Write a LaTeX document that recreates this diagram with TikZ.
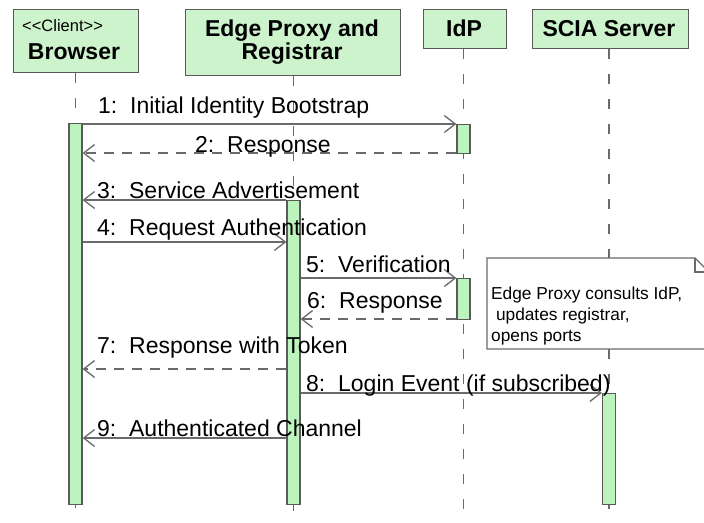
\documentclass[tikz,border=0pt]{standalone}
\usepackage{fontspec}
\setmainfont{Liberation Sans}
\usetikzlibrary{arrows.meta}
\definecolor{headfill}{HTML}{CCF3CC}
\definecolor{barfill}{HTML}{BDF4BD}
\definecolor{edgegray}{HTML}{5A5A5A}
\definecolor{linegray}{HTML}{6A6A6A}
\tikzset{
  headbox/.style={draw=edgegray, fill=headfill, line width=1.4pt, inner sep=0pt},
  actbar/.style={draw=edgegray, fill=barfill, line width=1.2pt, minimum width=13pt, inner sep=0pt, anchor=north},
  lifeline/.style={draw=linegray, line width=1.2pt, dash pattern=on 10pt off 15pt},
  call/.style={draw=linegray, line width=1.3pt, -{Straight Barb[length=11pt,width=17pt,line width=1.3pt]}},
  reply/.style={call, dash pattern=on 10pt off 8pt},
  lbl/.style={inner sep=0pt, anchor=base west, font=\fontsize{23}{26}\selectfont},
  headtxt/.style={inner sep=0pt, anchor=base, font=\fontsize{23}{26}\selectfont\bfseries},
  notebox/.style={draw=linegray, fill=white, line width=1.2pt},
  notetxt/.style={inner sep=0pt, anchor=base west, font=\fontsize{17.3}{21}\selectfont}
}
\begin{document}
\begin{tikzpicture}[x=1pt, y=-1pt]
\useasboundingbox (0,0) rectangle (704,522);

% participant heads
\node[headbox, minimum width=125pt, minimum height=63pt, anchor=north west] (hb) at (13,9) {};
\node[headbox, minimum width=215pt, minimum height=66pt, anchor=north west] (he) at (185,9) {};
\node[headbox, minimum width=83pt, minimum height=39pt, anchor=north west] (hi) at (423,9) {};
\node[headbox, minimum width=156pt, minimum height=39pt, anchor=north west] (hs) at (532,9) {};

\node[inner sep=0pt, anchor=base west, font=\fontsize{16.5}{18}\selectfont] (tclient) at (22,31) {<{}<Client>{}>};
\node[headtxt] (tbrowser) at (74,59) {Browser};
\node[headtxt] (tedge1) at (292,36) {Edge Proxy and};
\node[headtxt] (tedge2) at (292,59) {Registrar};
\node[headtxt] (tidp) at (464,36) {IdP};
\node[headtxt] (tscia) at (609,36) {SCIA Server};

% lifelines
\coordinate (endb) at (75.5,522);
\coordinate (ende) at (293.5,522);
\coordinate (endi) at (463.5,522);
\coordinate (ends) at (609,522);
\draw[lifeline] (hb.south -| endb) -- (endb);
\draw[lifeline] (he.south -| ende) -- (ende);
\draw[lifeline] (hi.south -| endi) -- (endi);
\draw[lifeline] (hs.south -| ends) -- (ends);

% activation bars
\node[actbar, minimum height=381pt] (bb) at (75.5,123) {};
\node[actbar, minimum height=304pt] (be) at (293.5,200) {};
\node[actbar, minimum height=29pt] (bi1) at (463.5,124) {};
\node[actbar, minimum height=41pt] (bi2) at (463.5,278) {};
\node[actbar, minimum height=111pt] (bs) at (609,393) {};

% message rows
\coordinate (m1) at (0,124);
\coordinate (m2) at (0,153);
\coordinate (m3) at (0,200);
\coordinate (m4) at (0,242);
\coordinate (m5) at (0,278);
\coordinate (m6) at (0,319);
\coordinate (m7) at (0,369);
\coordinate (m8) at (0,393);
\coordinate (m9) at (0,438);

\draw[call]  (bb.east |- m1) -- (bi1.west |- m1);
\draw[reply] (bi1.west |- m2) -- (bb.east |- m2);
\draw[call]  (be.west |- m3) -- (bb.east |- m3);
\draw[call]  (bb.east |- m4) -- (be.west |- m4);
\draw[call]  (be.east |- m5) -- (bi2.west |- m5);
\draw[reply] (bi2.west |- m6) -- (be.east |- m6);
\draw[reply] (be.west |- m7) -- (bb.east |- m7);
\draw[call]  (be.east |- m8) -- (bs.west |- m8);
\draw[call]  (be.west |- m9) -- (bb.east |- m9);

% message labels
\node[lbl] (l1) at (98,113) {1:\ \ Initial Identity Bootstrap};
\node[lbl] (l2) at (195,152) {2:\ \ Response};
\node[lbl] (l3) at (97,198) {3:\ \ Service Advertisement};
\node[lbl] (l4) at (97,235) {4:\ \ Request Authentication};
\node[lbl] (l5) at (306,272) {5:\ \ Verification};
\node[lbl] (l6) at (307,308) {6:\ \ Response};
\node[lbl] (l7) at (97,353) {7:\ \ Response with Token};
\node[lbl] (l8) at (306,391) {8:\ \ Login Event (if subscribed)};
\node[lbl] (l9) at (97,436) {9:\ \ Authenticated Channel};

% note with folded corner
\coordinate (nw) at (487,258);
\coordinate (ne) at (695,258);
\coordinate (nf) at (709,272);
\coordinate (nse) at (709,349);
\coordinate (nsw) at (487,349);
\draw[notebox] (nw) -- (ne) -- (nf) -- (nse) -- (nsw) -- cycle;
\draw[notebox, fill=none] (ne) -- (ne |- nf) -- (nf);
\node[notetxt] (n1) at (491,299) {Edge Proxy consults IdP,};
\node[notetxt] (n2) at (491,320) {\ updates registrar,};
\node[notetxt] (n3) at (491,341) {opens ports};
\end{tikzpicture}
\end{document}
